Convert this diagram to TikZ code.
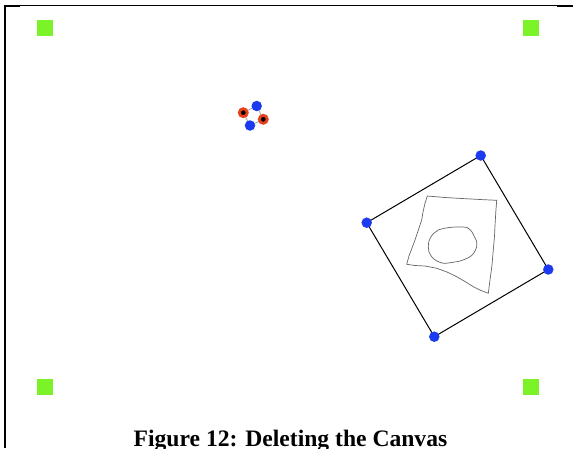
\documentclass[tikz,border=0pt]{standalone}
\usepackage{fontspec}
\setmainfont{Liberation Serif}
\definecolor{handlegreen}{RGB}{124,242,40}
\definecolor{dotblue}{RGB}{28,58,240}
\definecolor{selred}{RGB}{232,64,28}
\tikzset{
  greensq/.style={fill=handlegreen, draw=none, minimum size=16pt, inner sep=0pt},
  bluedot/.style={circle, fill=dotblue, draw=none, minimum size=10.5pt, inner sep=0pt},
  reddot/.style={circle, fill=black, draw=selred, line width=2.8pt, minimum size=8pt, inner sep=0pt},
  edge/.style={draw=black, line width=1pt},
  thinedge/.style={draw=gray!80, line width=0.7pt},
  sketch/.style={draw=gray!80!black, line width=0.7pt, line join=round},
}
\begin{document}
\begin{tikzpicture}[x=1pt,y=-1pt]
\useasboundingbox (0,0) rectangle (573,448);
\fill[white] (0,0) rectangle (573,448);
% frame
\draw[line width=1pt] (4,5.5) -- (573,5.5);
\draw[line width=2pt] (4,5.5) -- (20,5.5);
\draw[line width=2pt] (557,5.5) -- (573,5.5);
\draw[line width=2pt] (5,4.5) -- (5,448);
% green corner squares
\node[greensq] (g1) at (45,28) {};
\node[greensq] (g2) at (531,28) {};
\node[greensq] (g3) at (45,387) {};
\node[greensq] (g4) at (531,387) {};
% small miniature
\coordinate (m1) at (243.3,112.7);
\coordinate (m2) at (256.7,106);
\coordinate (m3) at (263.3,119.3);
\coordinate (m4) at (250,125.5);
\draw[thinedge] (m1) -- (m2) -- (m3) -- (m4) -- cycle;
\node[bluedot] (s2) at (m2) {};
\node[bluedot] (s4) at (m4) {};
\node[reddot] (s1) at (m1) {};
\node[reddot] (s3) at (m3) {};
% canvas
\coordinate (ct) at (480.7,155.5);
\coordinate (cl) at (366.7,222.7);
\coordinate (cb) at (434.3,336.7);
\coordinate (cr) at (548.3,269.5);
\draw[edge] (ct) -- (cl) -- (cb) -- (cr) -- cycle;
% sketch inside
\draw[sketch] (427.3,196) -- (445,197.5) -- (462,198.5) -- (480,199.5) -- (496.7,200.3)
  -- (495.8,212) -- (495.2,222) -- (494.5,236) -- (493.3,250) -- (492,265) -- (490,280) -- (488.3,293.3)
  -- (481,290.5) -- (473.3,286.7) -- (465,281.5) -- (456.7,276.7) -- (447,272) -- (436.7,268.3)
  -- (425,266) -- (415,265.5) -- (406.7,264.3)
  -- (409,256) -- (412,248) -- (415,240) -- (418,231) -- (421.7,220) -- (423,212) -- (425,203.3) -- cycle;
\draw[sketch] (438.3,230) .. controls (446,227) and (458,226.5) .. (466.7,227.3)
  .. controls (471,229.5) and (473,233) .. (474.5,237)
  .. controls (477,241) and (477.5,244) .. (476.7,247)
  .. controls (475,252) and (473,255) .. (469.5,257)
  .. controls (465,259.5) and (461,261) .. (456.7,261.7)
  .. controls (451,262.5) and (447,263.5) .. (443.3,263.3)
  .. controls (438,262) and (434,260) .. (431.7,256.7)
  .. controls (429,253) and (428,250) .. (428.3,246.7)
  .. controls (428.5,242) and (429,240) .. (430.5,237.5)
  .. controls (432.5,234) and (435,232) .. (438.3,230);
\node[bluedot] (kt) at (ct) {};
\node[bluedot] (kl) at (cl) {};
\node[bluedot] (kb) at (cb) {};
\node[bluedot] (kr) at (cr) {};
% caption
\node[anchor=base west, font=\fontsize{23.6}{28}\selectfont\bfseries, inner sep=0pt] (cap) at (133.5,446.5) {Figure 12: Deleting the Canvas};
\end{tikzpicture}
\end{document}
